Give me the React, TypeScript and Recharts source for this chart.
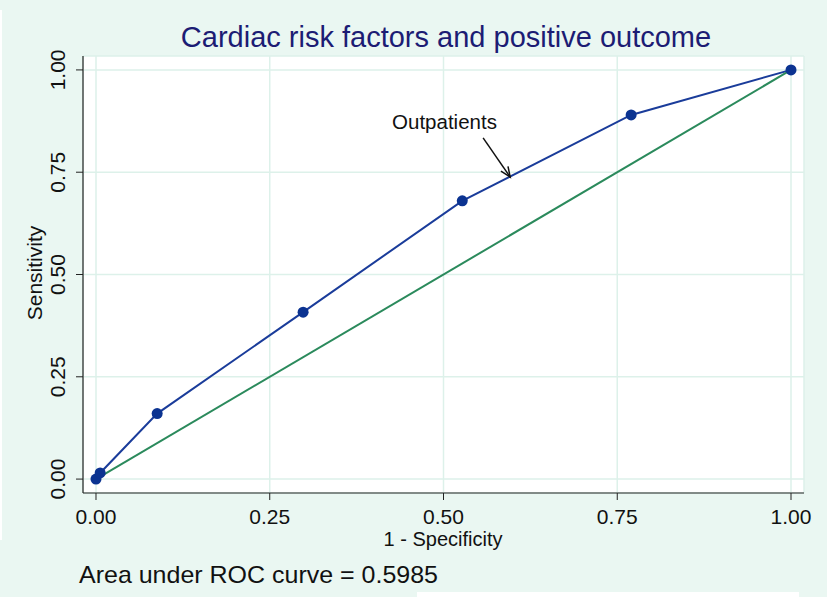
import React from "react";
import {
  LineChart, Line, XAxis, YAxis, CartesianGrid, ReferenceLine, ReferenceDot,
} from "recharts";

// ROC points (1 - specificity, sensitivity)
const fpr = [0, 0.006, 0.088, 0.298, 0.527, 0.77, 1];
const tpr = [0, 0.015, 0.16, 0.408, 0.68, 0.89, 1];
const refFpr = [0, 1];
const refTpr = [0, 1];
const ticks = [0, 0.25, 0.5, 0.75, 1];

const title = "Cardiac risk factors and positive outcome";
const note = "Area under ROC curve = 0.5985";
const annoText = "Outpatients";
const annoAt = { x: 0.426, y: 0.856 };
const arrowFrom = { x: 0.557, y: 0.834 };
const arrowTo = { x: 0.596, y: 0.738 };

const rocData = fpr.map((x, i) => ({ x, y: tpr[i] }));
const refData = refFpr.map((x, i) => ({ x, y: refTpr[i] }));

const FONT = "'Liberation Sans', Arial, sans-serif";
const BG = "#eaf7f2";
const GRID = "#ddf1ea";
const BLUE = "#1a3c9a";
const DOT = "#0b3391";
const GREEN = "#2b8a5c";

const fmt = (v: number) => v.toFixed(2);

function YTick(props: any) {
  const { y, payload } = props;
  const bx = 65;
  return (
    <text x={bx} y={y} textAnchor="middle" fontSize={21} fontFamily={FONT} fill="#111"
      transform={`rotate(-90, ${bx}, ${y})`}>
      {fmt(payload.value)}
    </text>
  );
}

function Arrow(props: any) {
  const { x1, y1, x2, y2 } = props;
  const ang = Math.atan2(y2 - y1, x2 - x1);
  const len = 11;
  const spread = 0.4;
  const ax = x2 - len * Math.cos(ang - spread);
  const ay = y2 - len * Math.sin(ang - spread);
  const bx = x2 - len * Math.cos(ang + spread);
  const by = y2 - len * Math.sin(ang + spread);
  return (
    <g stroke="#111" strokeWidth={1.5} fill="none">
      <line x1={x1} y1={y1} x2={x2} y2={y2} />
      <polyline points={`${ax},${ay} ${x2},${y2} ${bx},${by}`} />
    </g>
  );
}

function AnnoText(props: any) {
  const { cx, cy } = props;
  return (
    <text x={cx} y={cy} fontSize={20.5} fontFamily={FONT} fill="#111">{annoText}</text>
  );
}

export default function App() {
  return (
    <div style={{ position: "relative", width: 827, height: 597, background: BG, fontFamily: FONT }}>
      <style>{`body{margin:0}`}</style>
      <LineChart width={827} height={597} data={rocData}
        margin={{ top: 56, right: 23, bottom: 74, left: 23 }}>
        <CartesianGrid fill="#fff" stroke={GRID} strokeWidth={1.5} />
        <XAxis type="number" dataKey="x" domain={[-0.0187, 1.0187]} ticks={ticks}
          tickFormatter={fmt} allowDataOverflow height={30}
          axisLine={{ stroke: "#222", strokeWidth: 1.2 }} tickLine={{ stroke: "#222" }}
          tickSize={7} tickMargin={9}
          tick={{ fontSize: 21, fill: "#111", fontFamily: FONT }} />
        <YAxis type="number" dataKey="y" domain={[-0.034, 1.034]} ticks={ticks}
          allowDataOverflow width={60}
          axisLine={{ stroke: "#222", strokeWidth: 1.2 }} tickLine={{ stroke: "#222" }}
          tickSize={7} tickMargin={8} tick={<YTick />} />
        <Line data={rocData} dataKey="y" stroke={BLUE} strokeWidth={2}
          dot={{ r: 5.5, fill: DOT, stroke: "none" }} isAnimationActive={false} />
        <Line data={refData} dataKey="y" stroke={GREEN} strokeWidth={2}
          dot={false} isAnimationActive={false} />
        <ReferenceLine segment={[arrowFrom, arrowTo]} shape={<Arrow />} />
        <ReferenceDot x={annoAt.x} y={annoAt.y} r={0} shape={<AnnoText />} />
      </LineChart>
      <svg width={827} height={597} style={{ position: "absolute", left: 0, top: 0, pointerEvents: "none" }}>
        <rect x={0} y={10} width={2} height={530} fill="#fff" />
        <rect x={417} y={592} width={382} height={5} fill="#fff" />
        <text x={446} y={47} textAnchor="middle" fontSize={29} fill="#1c1c74" fontFamily={FONT}>{title}</text>
        <text x={443} y={546} textAnchor="middle" fontSize={20} fill="#111" fontFamily={FONT}>1 - Specificity</text>
        <text x={42} y={273} textAnchor="middle" fontSize={21} fill="#111" fontFamily={FONT}
          transform="rotate(-90, 42, 273)">Sensitivity</text>
        <text x={79} y={583} fontSize={24} fill="#111" fontFamily={FONT} textLength={359}
          lengthAdjust="spacingAndGlyphs">{note}</text>
      </svg>
    </div>
  );
}
